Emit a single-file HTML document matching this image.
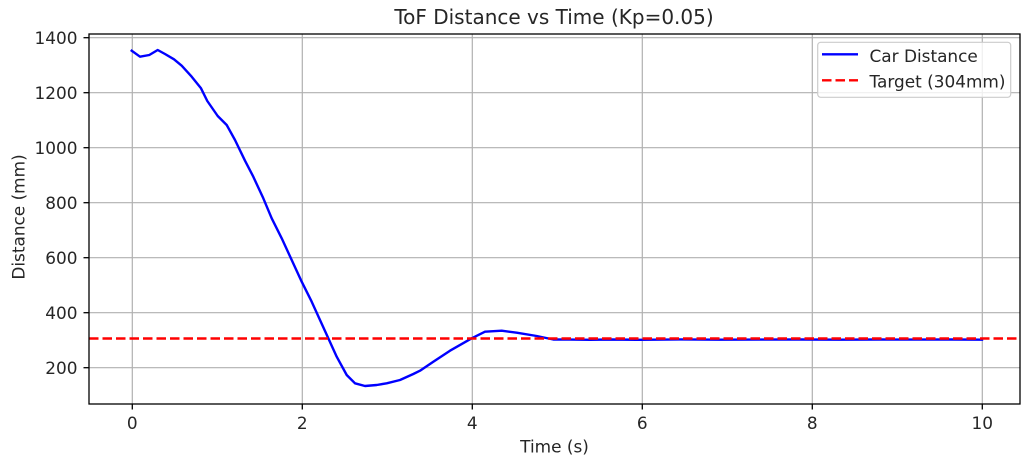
<!DOCTYPE html>
<html><head><meta charset="utf-8"><style>
html,body{margin:0;padding:0;background:#fff;}
svg{display:block;}
text{font-family:"DejaVu Sans","Liberation Sans",sans-serif;fill:#262626;}
</style></head><body>
<svg width="1035" height="464" viewBox="0 0 1035 464" xmlns="http://www.w3.org/2000/svg">
<rect width="1035" height="464" fill="#fff"/>
<!-- grid -->
<g stroke="#b0b0b0" stroke-width="1.2">
<line x1="132.3" y1="34" x2="132.3" y2="404"/>
<line x1="302.3" y1="34" x2="302.3" y2="404"/>
<line x1="472.3" y1="34" x2="472.3" y2="404"/>
<line x1="642.3" y1="34" x2="642.3" y2="404"/>
<line x1="812.3" y1="34" x2="812.3" y2="404"/>
<line x1="982.3" y1="34" x2="982.3" y2="404"/>
<line x1="89" y1="367.7" x2="1020" y2="367.7"/>
<line x1="89" y1="312.7" x2="1020" y2="312.7"/>
<line x1="89" y1="257.7" x2="1020" y2="257.7"/>
<line x1="89" y1="202.7" x2="1020" y2="202.7"/>
<line x1="89" y1="147.7" x2="1020" y2="147.7"/>
<line x1="89" y1="92.7" x2="1020" y2="92.7"/>
<line x1="89" y1="37.7" x2="1020" y2="37.7"/>
</g>
<!-- data -->
<polyline fill="none" stroke="#0000ff" stroke-width="2.4" stroke-linejoin="round" stroke-linecap="square" points="131.7,50.7 140,56.7 149.3,55 157.7,50 165,54 174,59.3 181.7,65.7 191.7,76.7 201,88.3 207.3,101 217.7,116 226.7,125 235,140 245,160.7 253.3,176.7 263.3,198.3 271.7,218.3 281.7,238.3 291.7,260 301.7,281.7 311.7,301.7 320,320 328.3,338.3 336.7,356.7 346.7,375 355,383.3 365,386 376.7,385 386.7,383.3 400,380 413.3,374 420,370.7 433.3,361.7 450,350.7 471.7,338.3 485,331.7 501.7,330.7 516.7,332.7 536.7,336 553.3,339.5 570,339.6 590,339.8 610,339.5 640,339.8 680,339.4 720,339.7 760,339.6 800,339.5 840,339.7 880,339.5 920,339.6 950,339.5 982,339.7"/>
<line x1="89" y1="338.5" x2="1020" y2="338.5" stroke="#ff0000" stroke-width="2.4" stroke-dasharray="9.5 4"/>
<!-- spines -->
<rect x="89" y="34" width="931" height="370" fill="none" stroke="#000" stroke-width="1.3"/>
<!-- ticks -->
<g stroke="#000" stroke-width="1.3">
<line x1="132.3" y1="404" x2="132.3" y2="409.5"/>
<line x1="302.3" y1="404" x2="302.3" y2="409.5"/>
<line x1="472.3" y1="404" x2="472.3" y2="409.5"/>
<line x1="642.3" y1="404" x2="642.3" y2="409.5"/>
<line x1="812.3" y1="404" x2="812.3" y2="409.5"/>
<line x1="982.3" y1="404" x2="982.3" y2="409.5"/>
<line x1="83.5" y1="367.7" x2="89" y2="367.7"/>
<line x1="83.5" y1="312.7" x2="89" y2="312.7"/>
<line x1="83.5" y1="257.7" x2="89" y2="257.7"/>
<line x1="83.5" y1="202.7" x2="89" y2="202.7"/>
<line x1="83.5" y1="147.7" x2="89" y2="147.7"/>
<line x1="83.5" y1="92.7" x2="89" y2="92.7"/>
<line x1="83.5" y1="37.7" x2="89" y2="37.7"/>
</g>
<g font-size="16.9" text-anchor="middle">
<text x="132.3" y="429">0</text>
<text x="302.3" y="429">2</text>
<text x="472.3" y="429">4</text>
<text x="642.3" y="429">6</text>
<text x="812.3" y="429">8</text>
<text x="982.3" y="429">10</text>
</g>
<g font-size="16.9" text-anchor="end">
<text x="77.5" y="373.8">200</text>
<text x="77.5" y="318.8">400</text>
<text x="77.5" y="263.8">600</text>
<text x="77.5" y="208.8">800</text>
<text x="77.5" y="153.8">1000</text>
<text x="77.5" y="98.8">1200</text>
<text x="77.5" y="43.8">1400</text>
</g>
<text x="554.5" y="452.5" font-size="16.9" text-anchor="middle">Time (s)</text>
<text transform="translate(24.5,217) rotate(-90)" font-size="16.9" text-anchor="middle">Distance (mm)</text>
<text x="554" y="24" font-size="20" text-anchor="middle">ToF Distance vs Time (Kp=0.05)</text>
<!-- legend -->
<rect x="817.7" y="42.3" width="193" height="55" rx="3" ry="3" fill="#fff" fill-opacity="0.8" stroke="#cccccc" stroke-width="1.2"/>
<line x1="822" y1="54.3" x2="858" y2="54.3" stroke="#0000ff" stroke-width="2.4"/>
<line x1="822" y1="80.3" x2="858" y2="80.3" stroke="#ff0000" stroke-width="2.4" stroke-dasharray="9.5 4"/>
<text x="869.5" y="62" font-size="16.9">Car Distance</text>
<text x="869.5" y="87.5" font-size="16.9">Target (304mm)</text>
</svg>
</body></html>
